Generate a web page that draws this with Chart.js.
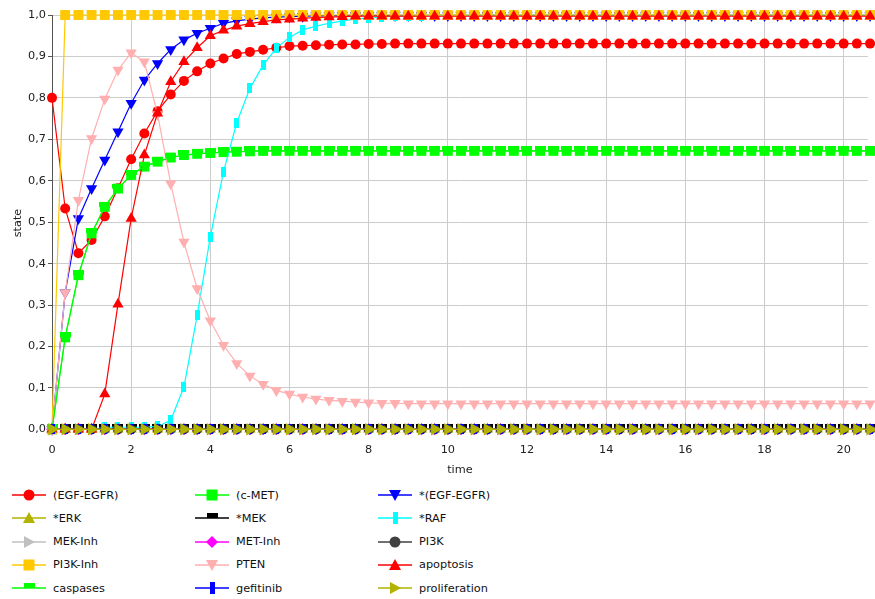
<!DOCTYPE html>
<html><head><meta charset="utf-8">
<script src="https://cdn.jsdelivr.net/npm/chart.js@4"></script>
<style>
html,body{margin:0;padding:0;background:#fff;}
#wrap{position:relative;width:875px;height:599px;overflow:hidden;font-family:"DejaVu Sans",sans-serif;background:#fff;}
#chart{position:absolute;left:0;top:0;}
.lg{position:absolute;height:16px;display:flex;align-items:center;font-size:11.3px;color:#111;white-space:nowrap;}
.lg svg{margin-right:6px;flex:none;}
</style></head>
<body><div id="wrap"><canvas id="chart" width="875" height="480"></canvas><div id="legend"></div></div>
<script>
const times = [0,0.333,0.667,1,1.333,1.667,2,2.333,2.667,3,3.333,3.667,4,4.333,4.667,5,5.333,5.667,6,6.333,6.667,7,7.333,7.667,8,8.333,8.667,9,9.333,9.667,10,10.333,10.667,11,11.333,11.667,12,12.333,12.667,13,13.333,13.667,14,14.333,14.667,15,15.333,15.667,16,16.333,16.667,17,17.333,17.667,18,18.333,18.667,19,19.333,19.667,20,20.333,20.667];

const seriesNames = ['(EGF-EGFR)','(c-MET)','*(EGF-EGFR)','*ERK','*MEK','*RAF','MEK-Inh','MET-Inh','PI3K','PI3K-Inh','PTEN','apoptosis','caspases','gefitinib','proliferation'];

const egfEgfr = [0.800,0.533,0.425,0.457,0.514,0.582,0.652,0.714,0.768,
  0.808,0.841,0.864,0.883,0.895,0.906,0.911,0.916,0.921,
  0.925,0.926,0.927,0.928,0.929,0.929,0.930,0.930,0.931,
  0.931,0.931,0.931,0.931,0.931,0.931,0.931,0.931,0.931,
  0.931,0.931,0.931,0.931,0.931,0.931,0.931,0.931,0.931,
  0.931,0.931,0.931,0.931,0.931,0.931,0.931,0.931,0.931,
  0.931,0.931,0.931,0.931,0.931,0.931,0.931,0.931,0.931];

const cMet = [0,0.222,0.372,0.473,0.537,0.581,0.614,0.634,0.646,
  0.656,0.662,0.665,0.667,0.669,0.670,0.671,0.672,0.672,
  0.672,0.672,0.672,0.672,0.672,0.672,0.672,0.672,0.672,
  0.672,0.672,0.672,0.672,0.672,0.672,0.672,0.672,0.672,
  0.672,0.672,0.672,0.672,0.672,0.672,0.672,0.672,0.672,
  0.672,0.672,0.672,0.672,0.672,0.672,0.672,0.672,0.672,
  0.672,0.672,0.672,0.672,0.672,0.672,0.672,0.672,0.672];

const egfEgfrActive = [0,0.330,0.509,0.581,0.650,0.718,0.787,0.843,0.883,
  0.917,0.940,0.956,0.968,0.980,0.986,0.990,0.993,0.995,
  0.996,0.997,0.998,0.998,0.999,0.999,0.999,0.999,0.999,
  0.999,0.999,0.999,0.999,0.999,0.999,0.999,0.999,0.999,
  0.999,0.999,0.999,0.999,0.999,0.999,0.999,0.999,0.999,
  0.999,0.999,0.999,0.999,0.999,0.999,0.999,0.999,0.999,
  0.999,0.999,0.999,0.999,0.999,0.999,0.999,0.999,0.999];

const rafActive = [0,0,0,0,0.005,0.005,0.005,0.005,0.007,
  0.022,0.102,0.275,0.465,0.622,0.740,0.823,0.879,0.920,
  0.946,0.964,0.973,0.980,0.986,0.990,0.993,0.995,0.997,
  0.998,0.998,0.999,0.999,0.999,1,1,1,1,
  1,1,1,1,1,1,1,1,1,
  1,1,1,1,1,1,1,1,1,
  1,1,1,1,1,1,1,1,1];

const pi3kInh = [0,1,1,1,1,1,1,1,1,
  1,1,1,1,1,1,1,1,1,
  1,1,1,1,1,1,1,1,1,
  1,1,1,1,1,1,1,1,1,
  1,1,1,1,1,1,1,1,1,
  1,1,1,1,1,1,1,1,1,
  1,1,1,1,1,1,1,1,1];

const pten = [0,0.330,0.553,0.702,0.797,0.867,0.909,0.887,0.760,
  0.593,0.452,0.340,0.262,0.203,0.159,0.129,0.109,0.094,
  0.085,0.078,0.073,0.070,0.068,0.066,0.064,0.063,0.063,
  0.062,0.062,0.062,0.062,0.062,0.062,0.062,0.062,0.062,
  0.062,0.062,0.062,0.062,0.062,0.062,0.062,0.062,0.062,
  0.062,0.062,0.062,0.062,0.062,0.062,0.062,0.062,0.062,
  0.062,0.062,0.062,0.062,0.062,0.062,0.062,0.062,0.062];

const apoptosis = [0,0,0,0,0.085,0.302,0.509,0.662,0.763,
  0.839,0.887,0.921,0.950,0.963,0.973,0.979,0.984,0.988,
  0.990,0.992,0.994,0.995,0.996,0.997,0.997,0.997,0.997,
  0.997,0.997,0.997,0.997,0.997,0.997,0.997,0.997,0.997,
  0.997,0.997,0.997,0.997,0.997,0.997,0.997,0.997,0.997,
  0.997,0.997,0.997,0.997,0.997,0.997,0.997,0.997,0.997,
  0.997,0.997,0.997,0.997,0.997,0.997,0.997,0.997,0.997];

const caspases = [0,0.222,0.372,0.473,0.537,0.581,0.614,0.634,0.646,
  0.656,0.662,0.665,0.667,0.669,0.670,0.671,0.672,0.672,
  0.672,0.672,0.672,0.672,0.672,0.672,0.672,0.672,0.672,
  0.672,0.672,0.672,0.672,0.672,0.672,0.672,0.672,0.672,
  0.672,0.672,0.672,0.672,0.672,0.672,0.672,0.672,0.672,
  0.672,0.672,0.672,0.672,0.672,0.672,0.672,0.672,0.672,
  0.672,0.672,0.672,0.672,0.672,0.672,0.672,0.672,0.672];

const flatZero = [0,0,0,0,0,0,0,0,0,
  0,0,0,0,0,0,0,0,0,
  0,0,0,0,0,0,0,0,0,
  0,0,0,0,0,0,0,0,0,
  0,0,0,0,0,0,0,0,0,
  0,0,0,0,0,0,0,0,0,
  0,0,0,0,0,0,0,0,0];

const seriesValues = [egfEgfr, cMet, egfEgfrActive, flatZero, flatZero, rafActive, flatZero, flatZero, flatZero, pi3kInh, pten, apoptosis, caspases, flatZero, flatZero];

// ---- styles (separate from data) ----
const styles = [
  {color:'#ff0000', shape:'circle'},
  {color:'#00ff00', shape:'square'},
  {color:'#0000ff', shape:'triDown'},
  {color:'#b2b200', shape:'triUp'},
  {color:'#000000', shape:'hrect'},
  {color:'#00ffff', shape:'vrect'},
  {color:'#c0c0c0', shape:'triRight'},
  {color:'#ff00ff', shape:'diamond'},
  {color:'#404040', shape:'circle'},
  {color:'#ffc800', shape:'square'},
  {color:'#ffafaf', shape:'triDown'},
  {color:'#ff0000', shape:'triUp'},
  {color:'#00ff00', shape:'hrect'},
  {color:'#0000ff', shape:'vrect'},
  {color:'#b2b200', shape:'triRightBig'}
];

function rectImage(color, w, h, full, offsetTop) {
  const c = document.createElement('canvas');
  c.width = w; c.height = full;
  const x = c.getContext('2d');
  x.fillStyle = color;
  x.fillRect(0, offsetTop, w, h);
  return c;
}

function pointOpts(s) {
  switch (s.shape) {
    case 'circle': return {pointStyle:'circle', pointRadius:5, pointRotation:0};
    case 'square': return {pointStyle:'rect', pointRadius:7, pointRotation:0};
    case 'triDown': return {pointStyle:'triangle', pointRadius:6.5, pointRotation:180};
    case 'triUp': return {pointStyle:'triangle', pointRadius:6.5, pointRotation:0};
    case 'triRight': return {pointStyle:'triangle', pointRadius:6.5, pointRotation:90};
    case 'triRightBig': return {pointStyle:'triangle', pointRadius:7.2, pointRotation:90};
    case 'diamond': return {pointStyle:'rectRot', pointRadius:6, pointRotation:0};
    case 'vrect': return {pointStyle:rectImage(s.color,5,10,10,0), pointRadius:5, pointRotation:0};
    case 'hrect': return {pointStyle:rectImage(s.color,11,5,10,0), pointRadius:5, pointRotation:0};
  }
}

const N = seriesNames.length;
const datasets = seriesNames.map((name, i) => Object.assign({
  label: name,
  data: times.map((t, k) => ({x: t, y: seriesValues[i][k]})),
  borderColor: styles[i].color,
  backgroundColor: styles[i].color,
  pointBackgroundColor: styles[i].color,
  pointBorderWidth: 0,
  pointHoverRadius: 6,
  borderWidth: 1.2,
  tension: 0,
  fill: false,
  clip: false,
  order: N - i
}, pointOpts(styles[i])));

const FONT = {family: '"DejaVu Sans", sans-serif', size: 11.3};

new Chart(document.getElementById('chart'), {
  type: 'line',
  data: {datasets},
  options: {
    responsive: false,
    animation: false,
    devicePixelRatio: 1,
    layout: {padding: {top: 15, left: 0, right: 0, bottom: 0}},
    plugins: {legend: {display: false}, tooltip: {enabled: false}},
    scales: {
      x: {
        type: 'linear', min: 0, max: 20.61,
        ticks: {stepSize: 2, padding: 12, color: '#222', font: FONT, maxRotation: 0, autoSkip: false, includeBounds: false,
          callback: v => String(Math.round(v))},
        grid: {color: '#cccccc', lineWidth: 1, drawTicks: false},
        border: {display: false},
        title: {display: true, text: 'time', color: '#222', font: FONT, padding: {top: 0, bottom: 3.2}},
        afterFit(s) { s.height = 49; }
      },
      y: {
        type: 'linear', min: -0.004, max: 1.0,
        ticks: {stepSize: 0.1, includeBounds: false, padding: 2, color: '#222', font: FONT,
          callback: v => v.toFixed(1).replace('.', ',')},
        grid: {color: '#cccccc', lineWidth: 1, tickLength: 4, tickColor: '#555'},
        border: {display: true, color: '#555', width: 1},
        title: {display: true, text: 'state', color: '#222', font: FONT, padding: {top: 11, bottom: 0}},
        afterFit(s) { s.width = 52; }
      }
    }
  }
});

// ---- legend (HTML) ----
function iconSvg(s) {
  const c = s.color;
  let m = '';
  switch (s.shape) {
    case 'circle': m = `<circle cx="17" cy="8" r="5.5" fill="${c}"/>`; break;
    case 'square': m = `<rect x="11.5" y="2.5" width="11" height="11" fill="${c}"/>`; break;
    case 'triDown': m = `<polygon points="11,3 23,3 17,14" fill="${c}"/>`; break;
    case 'triUp': m = `<polygon points="17,2 23,13 11,13" fill="${c}"/>`; break;
    case 'triRight':
    case 'triRightBig': m = `<polygon points="12,2 23,8 12,14" fill="${c}"/>`; break;
    case 'diamond': m = `<polygon points="17,2 23,8 17,14 11,8" fill="${c}"/>`; break;
    case 'vrect': m = `<rect x="15" y="2" width="5" height="12" fill="${c}"/>`; break;
    case 'hrect': m = `<rect x="12" y="3" width="11" height="5" fill="${c}"/>`; break;
  }
  return `<svg width="35" height="16" viewBox="0 0 35 16"><line x1="0" y1="8" x2="34" y2="8" stroke="${c}" stroke-width="1.3"/>${m}</svg>`;
}
const colX = [12, 195, 378];
const rowY = [495, 518.3, 541.6, 564.9, 588];
const lg = document.getElementById('legend');
seriesNames.forEach((name, i) => {
  const d = document.createElement('div');
  d.className = 'lg';
  d.style.left = colX[i % 3] + 'px';
  d.style.top = (rowY[Math.floor(i / 3)] - 8) + 'px';
  d.innerHTML = iconSvg(styles[i]) + '<span></span>';
  d.querySelector('span').textContent = name;
  lg.appendChild(d);
});
</script>
</body></html>
